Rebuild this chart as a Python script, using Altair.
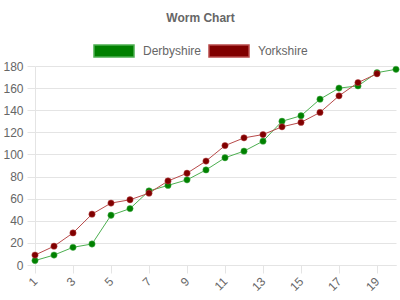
import altair as alt
import pandas as pd

overs = list(range(1, 21))
teams = ["Derbyshire", "Yorkshire"]
derbyshire = [4, 9, 16, 19, 45, 51, 67, 72, 77, 86, 97, 103, 112, 130, 135, 150, 160, 162, 174, 177]
yorkshire = [9, 17, 29, 46, 56, 59, 65, 76, 83, 94, 108, 115, 118, 125, 129, 138, 153, 165, 173]
x_ticks = list(range(1, 20, 2))
y_ticks = list(range(0, 181, 20))

rows = []
for team, vals in zip(teams, [derbyshire, yorkshire]):
    for o, v in zip(overs, vals):
        rows.append({"over": o, "team": team, "runs": v})
df = pd.DataFrame(rows)

FONT = "Liberation Sans"
GRID = "#e4e4e4"
TXT = "#666666"

x = alt.X("over:Q", scale=alt.Scale(domain=[1, 20], nice=False, zero=False),
          axis=alt.Axis(values=x_ticks, labelAngle=-45, labelAlign="right", labelBaseline="middle",
                        grid=False, domain=True, domainColor=GRID, tickColor=GRID, tickSize=8,
                        labelColor=TXT, labelFont=FONT, labelFontSize=12, labelPadding=6,
                        title=None))
y = alt.Y("runs:Q", scale=alt.Scale(domain=[0, 180], nice=False),
          axis=alt.Axis(values=y_ticks, grid=True, gridColor=GRID, domainColor=GRID, tickColor=GRID,
                        tickSize=8, labelColor=TXT, labelFont=FONT, labelFontSize=12, labelPadding=4,
                        title=None))

legend = alt.Legend(orient="none", legendX=58, legendY=-36, direction="horizontal",
                    title=None, symbolType="M-1,-0.3H1V0.3H-1Z", symbolSize=1600,
                    symbolStrokeWidth=1.5, labelFont=FONT, labelFontSize=12,
                    labelColor=TXT, labelOffset=8, columnPadding=4)
stroke = alt.Stroke("team:N", scale=alt.Scale(domain=teams, range=["#4caf50", "#b84a4a"]),
                    legend=legend)
fill = alt.Fill("team:N", scale=alt.Scale(domain=teams, range=["#008000", "#800000"]),
                legend=legend)

base = alt.Chart(df)
lines = base.mark_line(strokeWidth=1).encode(x=x, y=y, stroke=stroke, detail="team:N")
points = base.mark_point(filled=True, size=40, opacity=1, strokeWidth=0.5).encode(
    x=x, y=y, fill=fill, stroke=stroke)

chart = alt.layer(lines, points).properties(
    width=361, height=199,
    autosize=alt.AutoSizeParams(type="none"),
    padding={"left": 35, "top": 66, "right": 4, "bottom": 35},
    title=alt.TitleParams("Worm Chart", fontSize=12, fontWeight="bold", color=TXT, font=FONT,
                          anchor="middle", dx=-15, offset=5),
).configure_view(stroke=None)

chart.save("out.html", embed_options={"renderer": "svg", "actions": False})
